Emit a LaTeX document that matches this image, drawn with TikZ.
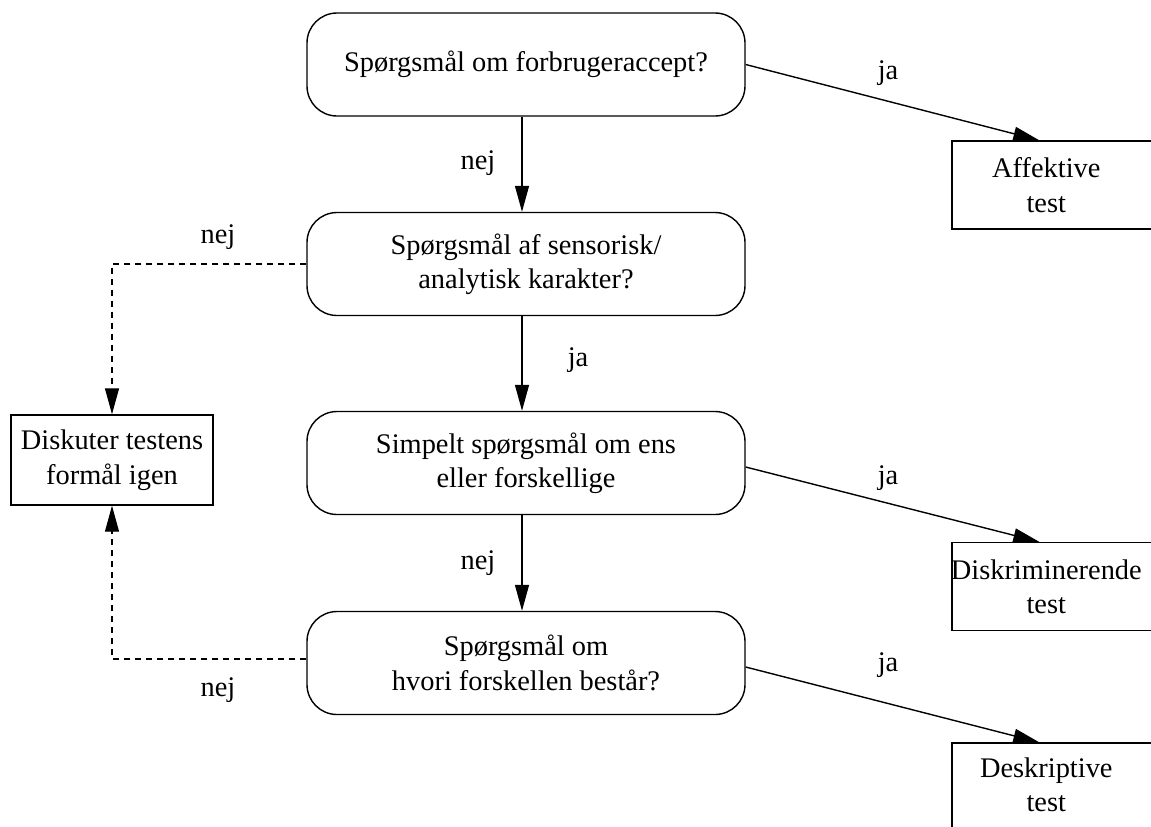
\documentclass[tikz,border=0pt]{standalone}
\usepackage{fontspec}
\setmainfont{Liberation Serif}
\usetikzlibrary{arrows.meta,calc}
\begin{document}
\begin{tikzpicture}[x=0.5pt,y=-0.5pt,
  every node/.style={font=\fontsize{14.2}{17.2}\selectfont},
  question/.style={draw, line width=0.7pt, rounded corners=15pt,
    minimum width=219pt, minimum height=51.5pt, align=center, inner sep=0pt},
  outbox/.style={draw, line width=0.7pt, minimum width=120pt,
    minimum height=44pt, inner sep=0pt},
  boxtext/.style={align=center, inner sep=0pt},
  flow/.style={line width=0.7pt, -{Triangle[length=13pt,width=7pt]}},
  back/.style={flow, dashed, dash pattern=on 3pt off 2.5pt, line width=0.6pt},
  tag/.style={inner sep=0pt}
]
\useasboundingbox (0,0) rectangle (1151,826);
\clip (0,0) rectangle (1151,826);

% questions down the middle
\node[question] (q1) at (526,64.5) {Spørgsmål om forbrugeraccept?};
\node[question] (q2) at (526,264) {Spørgsmål af sensorisk/\\analytisk karakter?};
\node[question] (q3) at (526,463) {Simpelt spørgsmål om ens\\eller forskellige};
\node[question] (q4) at (526,663) {Spørgsmål om\\hvori forskellen består?};

% fallback box on the left
\node[draw, line width=0.7pt, minimum width=101pt, minimum height=45pt,
  align=center, inner sep=0pt] (d) at (112,460) {Diskuter testens\\formål igen};

% outcome boxes on the right
\node[outbox] (a1) at (1072,185) {};
\node[boxtext] at ($(a1.west)+(95,0)$) {Affektive\\test};
\node[outbox] (a2) at (1072,586.5) {};
\node[boxtext] at ($(a2.west)+(95,0)$) {Diskriminerende\\test};
\node[outbox] (a3) at (1072,787) {};
\node[boxtext] at ($(a3.west)+(95,-2)$) {Deskriptive\\test};

% main chain
\draw[flow] ($(q1.south)+(-4,0)$) -- ($(q2.north)+(-4,0)$);
\draw[flow] ($(q2.south)+(-4,0)$) -- ($(q3.north)+(-4,0)$);
\draw[flow] ($(q3.south)+(-4,0)$) -- ($(q4.north)+(-4,0)$);

% yes branches
\draw[flow] (q1.east) -- ($(a1.north west)+(88,0)$);
\draw[flow] ($(q3.east)+(0,4)$) -- ($(a2.north west)+(88,0)$);
\draw[flow] ($(q4.east)+(0,4)$) -- ($(a3.north west)+(88,0)$);

% dashed returns
\draw[back] (q2.west) -| (d.north);
\draw[back] ($(q4.west)+(0,-4)$) -| (d.south);

% labels
\node[tag] (n1) at (478,163) {nej};
\node[tag] (j1) at (578,360) {ja};
\node[tag] (n2) at (478,563) {nej};
\node[tag] (j2) at (888,73) {ja};
\node[tag] (j3) at (888,478) {ja};
\node[tag] (j4) at (888,665) {ja};
\node[tag] (n3) at (218,237) {nej};
\node[tag] (n4) at (218,690) {nej};
\end{tikzpicture}
\end{document}
